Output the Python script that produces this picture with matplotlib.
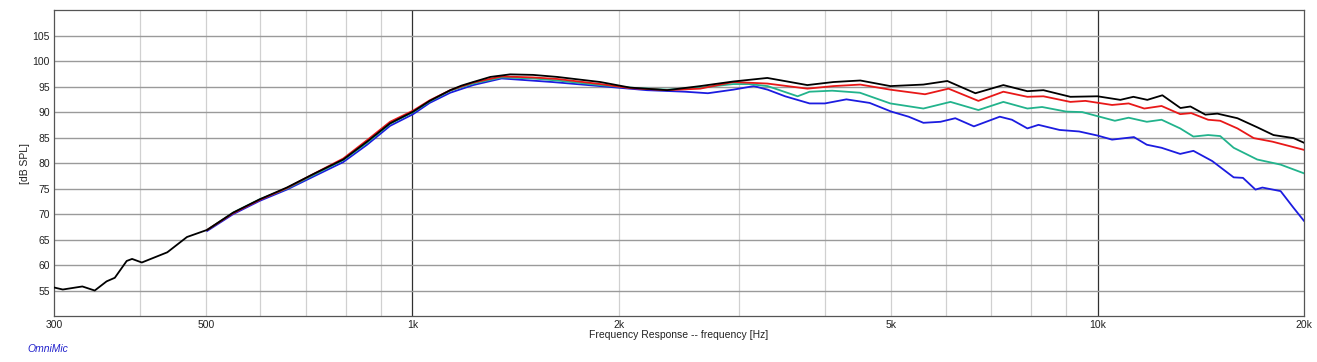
import matplotlib
matplotlib.use("Agg")
import matplotlib.pyplot as plt
from matplotlib.ticker import FixedLocator, NullFormatter

plt.rcParams['font.family'] = ['Liberation Sans', 'DejaVu Sans']

# black trace (full range)
black_f = [300, 309, 330, 344, 358, 368, 383, 390, 403, 439, 469, 502, 548, 599, 656, 716, 793, 859, 928,
           1003, 1060, 1136, 1180, 1227, 1300, 1389, 1500, 1627, 1881, 2080, 2354, 2631, 2940, 3297, 3771,
           4117, 4506, 4984, 5569, 6036, 6633, 7287, 7899, 8337, 9127, 10000, 10796, 11280, 11821, 12434,
           13213, 13663, 14366, 14958, 16000, 17115, 18060, 19320, 20000]
black_db = [55.6, 55.2, 55.8, 55.0, 56.8, 57.5, 60.8, 61.2, 60.5, 62.5, 65.5, 66.9, 70.3, 72.9, 75.2, 77.8,
            80.7, 84.2, 87.8, 90.1, 92.2, 94.3, 95.2, 95.9, 96.9, 97.4, 97.3, 96.9, 95.9, 94.8, 94.3, 95.1,
            96.0, 96.7, 95.3, 95.9, 96.2, 95.1, 95.4, 96.1, 93.7, 95.3, 94.1, 94.3, 93.0, 93.1, 92.4, 93.0,
            92.4, 93.3, 90.8, 91.1, 89.5, 89.7, 88.8, 87.0, 85.5, 84.9, 84.0]

red_f = [502, 548, 599, 656, 716, 793, 859, 928, 1003, 1060, 1136, 1227, 1350, 1500, 1627, 1881, 2080, 2354,
         2631, 2940, 3297, 3771, 4117, 4506, 4984, 5600, 6060, 6700, 7287, 7899, 8337, 9127, 9600, 10500,
         11100, 11700, 12400, 13200, 13700, 14500, 15100, 16000, 16900, 18000, 19100, 20000]
red_db = [66.9, 70.2, 72.8, 75.1, 77.8, 80.9, 84.5, 88.1, 90.3, 92.3, 94.3, 95.8, 97.0, 96.8, 96.5, 95.5,
          94.7, 94.3, 94.6, 95.9, 95.6, 94.6, 95.1, 95.4, 94.4, 93.5, 94.6, 92.2, 94.0, 93.0, 93.1, 92.0,
          92.2, 91.4, 91.7, 90.7, 91.2, 89.6, 89.8, 88.5, 88.3, 86.8, 84.9, 84.2, 83.3, 82.6]

green_f = [502, 548, 599, 656, 716, 793, 859, 928, 1003, 1060, 1136, 1227, 1350, 1500, 1627, 1881, 2080,
           2354, 2631, 2940, 3100, 3300, 3650, 3800, 4100, 4500, 4984, 5569, 6100, 6700, 7287, 7900, 8300,
           9000, 9500, 10600, 11100, 11800, 12400, 13200, 13800, 14500, 15100, 15800, 17100, 18500, 20000]
green_db = [66.9, 70.3, 72.9, 75.0, 77.6, 80.6, 84.0, 87.7, 90.0, 92.1, 94.2, 95.6, 96.8, 96.6, 96.2, 95.3,
            94.8, 94.4, 94.8, 95.5, 95.5, 95.1, 93.1, 94.0, 94.2, 93.8, 91.7, 90.7, 92.0, 90.4, 92.0, 90.7,
            91.0, 90.1, 90.0, 88.3, 88.9, 88.1, 88.5, 86.8, 85.2, 85.5, 85.3, 83.0, 80.7, 79.7, 78.0]

blue_f = [502, 548, 599, 656, 716, 793, 859, 928, 1003, 1060, 1136, 1227, 1350, 1600, 1880, 2200, 2500, 2700,
          2940, 3150, 3300, 3500, 3800, 4000, 4300, 4650, 5000, 5300, 5570, 5900, 6200, 6600, 7200, 7500,
          7900, 8200, 8800, 9400, 10000, 10500, 11300, 11800, 12400, 13200, 13800, 14700, 15800, 16300,
          17000, 17400, 18500, 19300, 20000]
blue_db = [66.7, 70.0, 72.6, 74.8, 77.3, 80.2, 83.6, 87.3, 89.6, 91.8, 93.8, 95.3, 96.6, 95.9, 95.1, 94.3,
           94.0, 93.7, 94.4, 95.1, 94.4, 93.1, 91.7, 91.7, 92.5, 91.8, 90.1, 89.1, 87.9, 88.1, 88.8, 87.2,
           89.1, 88.5, 86.8, 87.5, 86.5, 86.2, 85.4, 84.6, 85.1, 83.6, 83.0, 81.8, 82.4, 80.4, 77.2, 77.1,
           74.8, 75.2, 74.5, 71.3, 68.7]

x_ticks = [300, 500, 1000, 2000, 5000, 10000, 20000]
x_labels = ['300', '500', '1k', '2k', '5k', '10k', '20k']
minor_grid = [400, 500, 600, 700, 800, 900, 2000, 3000, 4000, 5000, 6000, 7000, 8000, 9000]
y_ticks = [55, 60, 65, 70, 75, 80, 85, 90, 95, 100, 105]

fig = plt.figure(figsize=(13.17, 3.62), dpi=100)
ax = fig.add_axes([0.041, 0.127, 0.949, 0.845])

ax.set_xscale('log')
ax.set_xlim(300, 20000)
ax.set_ylim(50, 110)

# grid
for f in minor_grid:
    ax.axvline(f, color='#d0d0d0', lw=0.9, zorder=1)
for f in [1000, 10000]:
    ax.axvline(f, color='#303030', lw=0.9, zorder=1)
for y in y_ticks:
    ax.axhline(y, color='#9a9a9a', lw=1.0, zorder=1)

ax.plot(blue_f, blue_db, color='#1c1ce0', lw=1.3, zorder=3)
ax.plot(green_f, green_db, color='#22b38c', lw=1.3, zorder=3)
ax.plot(red_f, red_db, color='#e81818', lw=1.3, zorder=4)
ax.plot(black_f, black_db, color='black', lw=1.3, zorder=5)

ax.xaxis.set_major_locator(FixedLocator(x_ticks))
ax.xaxis.set_minor_formatter(NullFormatter())
ax.xaxis.set_minor_locator(FixedLocator([]))
ax.set_xticklabels(x_labels)
ax.set_yticks(y_ticks)
ax.tick_params(axis='both', length=0, labelsize=7.5, colors='#222222', pad=3)

for s in ax.spines.values():
    s.set_color('#555555')
    s.set_linewidth(0.9)

ax.set_xlabel('Frequency Response -- frequency [Hz]', fontsize=7.5, color='#222222', labelpad=0)
ax.set_ylabel('[dB SPL]', fontsize=7.5, color='#222222', labelpad=2)

fig.text(0.021, 0.036, 'OmniMic', fontsize=7.5, color='#2222cc', style='italic', va='center')

fig.savefig('out.png', dpi=100)
